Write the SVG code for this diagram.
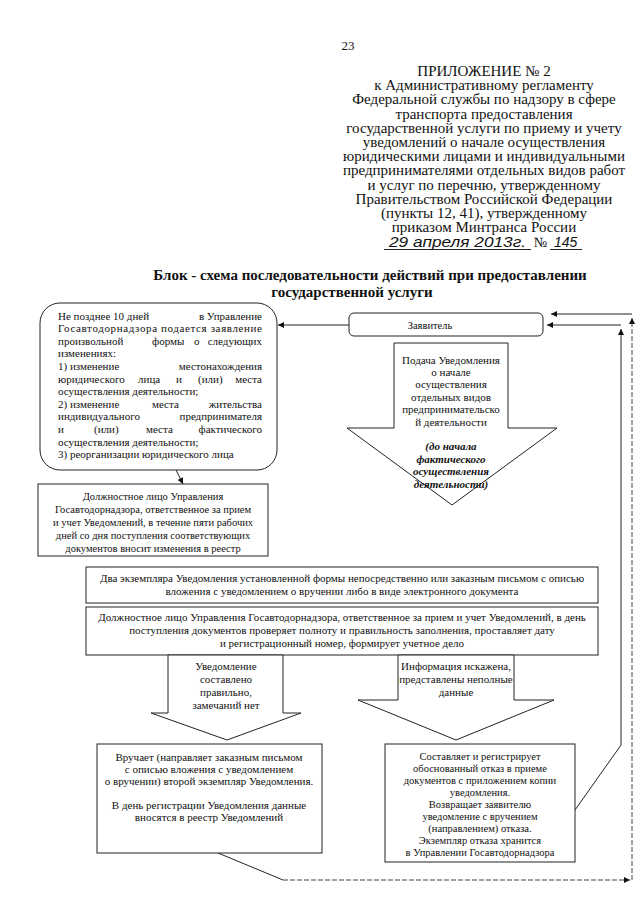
<svg xmlns="http://www.w3.org/2000/svg" width="640" height="905" viewBox="0 0 640 905">
<defs>
<marker id="ah" viewBox="0 0 10 10" refX="10" refY="5" markerWidth="7" markerHeight="6" orient="auto-start-reverse" markerUnits="userSpaceOnUse"><path d="M0,0 L10,5 L0,10 z" fill="#111"/></marker>
<style>
.hd{font-family:"Liberation Serif","Times New Roman",serif;font-size:15px;fill:#111;text-anchor:middle}
.tt{font-family:"Liberation Serif","Times New Roman",serif;font-size:15px;font-weight:bold;fill:#111;text-anchor:middle}
.t{font-family:"Liberation Serif","Times New Roman",serif;font-size:10.5px;fill:#111}
.m{font-size:11px}
.c{text-anchor:middle}
.e{text-anchor:end}
.bi{font-weight:bold;font-style:italic}
.hw{font-family:"Liberation Sans","DejaVu Sans",sans-serif;font-style:italic;font-size:14px;fill:#111}
.box{fill:#fff;stroke:#222;stroke-width:1}
.ln{fill:none;stroke:#222;stroke-width:1}
.dl{fill:none;stroke:#444;stroke-width:1;stroke-dasharray:5 2}
</style>
</defs>
<rect width="640" height="905" fill="#fff"/>

<g id="header">
<text x="348" y="50" class="hd" style="font-size:13px">23</text>
<text x="484" y="76" class="hd">ПРИЛОЖЕНИЕ № 2</text>
<text x="484" y="90.2" class="hd">к Административному регламенту</text>
<text x="484" y="104.4" class="hd">Федеральной службы по надзору в сфере</text>
<text x="484" y="118.6" class="hd">транспорта предоставления</text>
<text x="484" y="132.8" class="hd">государственной услуги по приему и учету</text>
<text x="484" y="147" class="hd">уведомлений о начале осуществления</text>
<text x="484" y="161.2" class="hd">юридическими лицами и индивидуальными</text>
<text x="484" y="175.4" class="hd">предпринимателями отдельных видов работ</text>
<text x="484" y="189.6" class="hd">и услуг по перечню, утвержденному</text>
<text x="484" y="203.8" class="hd">Правительством Российской Федерации</text>
<text x="484" y="218" class="hd">(пункты 12, 41), утвержденному</text>
<text x="484" y="232.2" class="hd">приказом Минтранса России</text>
<text x="389" y="247" class="hw" textLength="137" lengthAdjust="spacingAndGlyphs">29 апреля 2013г.</text>
<line x1="384" y1="249.5" x2="531" y2="249.5" class="ln"/>
<text x="534" y="247" class="hd" style="text-anchor:start;font-size:14px">№</text>
<text x="554" y="247" class="hw">145</text>
<line x1="550" y1="249.5" x2="582" y2="249.5" class="ln"/>
</g>

<g id="title">
<text x="370" y="280" class="tt">Блок - схема последовательности действий при предоставлении</text>
<text x="352" y="297" class="tt">государственной услуги</text>
</g>

<g id="connectors">
<path d="M349,325 L278,325" class="ln" marker-end="url(#ah)"/>
<path d="M176,470 L183,484" class="ln" marker-end="url(#ah)"/>
<path d="M575,810 L621,745 L621,329" class="ln" marker-end="url(#ah)"/>
<path d="M621,325 L547,325" class="ln" marker-end="url(#ah)"/>
<path d="M218,853 L283,880" class="ln"/>
<path d="M283,880 L630,880" class="dl" marker-end="url(#ah)"/>
<path d="M632,880 L632,318" class="dl" marker-end="url(#ah)"/>
<path d="M632,314 L551,314" class="ln" marker-end="url(#ah)"/>
</g>

<g id="applicant">
<rect x="349" y="313" width="194" height="23" rx="5" class="box"/>
<text x="430" y="328.5" class="t c">Заявитель</text>
</g>

<g id="submission-arrow">
<path d="M394,343 L508,343 L508,428 L557,428 L452,505 L347,428 L394,428 Z" class="box"/>
<text x="451" y="363.5" class="t m c">Подача Уведомления</text>
<text x="451" y="375.9" class="t m c">о начале</text>
<text x="451" y="388.3" class="t m c">осуществления</text>
<text x="451" y="400.7" class="t m c">отдельных видов</text>
<text x="451" y="413.1" class="t m c">предпринимательско</text>
<text x="451" y="425.5" class="t m c">й деятельности</text>
<text x="451" y="450.3" class="t m c bi">(до начала</text>
<text x="451" y="462.7" class="t m c bi">фактического</text>
<text x="451" y="475.1" class="t m c bi">осуществления</text>
<text x="451" y="487.5" class="t m c bi">деятельности)</text>
</g>

<g id="changes-note">
<rect x="40" y="303" width="237" height="167" rx="20" class="box"/>
<text x="58" y="319.5" class="t m">Не позднее 10 дней</text>
<text x="262" y="319.5" class="t m e">в Управление</text>
<text x="58" y="332.1" class="t m" textLength="204" lengthAdjust="spacing">Госавтодорнадзора подается заявление</text>
<text x="58" y="344.7" class="t m">произвольной</text>
<text x="152" y="344.7" class="t m">формы</text>
<text x="194" y="344.7" class="t m">о</text>
<text x="262" y="344.7" class="t m e">следующих</text>
<text x="58" y="357.3" class="t m">изменениях:</text>
<text x="58" y="369.9" class="t m">1) изменение</text>
<text x="262" y="369.9" class="t m e">местонахождения</text>
<text x="58" y="382.5" class="t m">юридического</text>
<text x="138" y="382.5" class="t m">лица</text>
<text x="176" y="382.5" class="t m">и</text>
<text x="198" y="382.5" class="t m">(или)</text>
<text x="262" y="382.5" class="t m e">места</text>
<text x="58" y="395.1" class="t m">осуществления деятельности;</text>
<text x="58" y="407.7" class="t m">2) изменение</text>
<text x="152" y="407.7" class="t m">места</text>
<text x="262" y="407.7" class="t m e">жительства</text>
<text x="58" y="420.3" class="t m">индивидуального</text>
<text x="262" y="420.3" class="t m e">предпринимателя</text>
<text x="58" y="432.9" class="t m">и</text>
<text x="94" y="432.9" class="t m">(или)</text>
<text x="146" y="432.9" class="t m">места</text>
<text x="262" y="432.9" class="t m e">фактического</text>
<text x="58" y="445.5" class="t m">осуществления деятельности;</text>
<text x="58" y="458.1" class="t m">3) реорганизации юридического лица</text>
</g>

<g id="registry-change">
<rect x="38" y="484" width="230" height="72" class="box"/>
<text x="153" y="499.5" class="t c">Должностное лицо Управления</text>
<text x="153" y="512.5" class="t c">Госавтодорнадзора, ответственное за прием</text>
<text x="153" y="525.5" class="t c">и учет Уведомлений, в течение пяти рабочих</text>
<text x="153" y="538.5" class="t c">дней со дня поступления соответствующих</text>
<text x="153" y="551.5" class="t c">документов вносит изменения в реестр</text>
</g>

<g id="two-copies">
<rect x="86" y="567" width="512" height="36" class="box"/>
<text x="342" y="581.5" class="t m c">Два экземпляра Уведомления установленной формы непосредственно или заказным письмом с описью</text>
<text x="342" y="594.5" class="t m c">вложения с уведомлением о вручении либо в виде электронного документа</text>
</g>

<g id="check">
<rect x="86" y="607" width="512" height="48" class="box"/>
<text x="342" y="620.5" class="t m c">Должностное лицо Управления Госавтодорнадзора, ответственное за прием и учет Уведомлений, в день</text>
<text x="342" y="633.5" class="t m c">поступления документов проверяет полноту и правильность заполнения, проставляет дату</text>
<text x="342" y="646.5" class="t m c">и регистрационный номер, формирует учетное дело</text>
</g>

<g id="ok-arrow">
<path d="M168,655 L283,655 L283,713 L301,713 L227,740 L151,713 L168,713 Z" class="box"/>
<text x="226" y="670" class="t m c">Уведомление</text>
<text x="226" y="683" class="t m c">составлено</text>
<text x="226" y="696" class="t m c">правильно,</text>
<text x="226" y="709" class="t m c">замечаний нет</text>
</g>

<g id="error-arrow">
<path d="M398,655 L514,655 L514,700 L554,700 L456,740 L358,700 L398,700 Z" class="box"/>
<text x="456" y="670" class="t m c">Информация искажена,</text>
<text x="456" y="683" class="t m c">представлены неполные</text>
<text x="456" y="696" class="t m c">данные</text>
</g>

<g id="deliver">
<rect x="97" y="744" width="225" height="109" class="box"/>
<text x="209" y="761" class="t m c">Вручает (направляет заказным письмом</text>
<text x="209" y="773" class="t m c">с описью вложения с уведомлением</text>
<text x="209" y="785" class="t m c">о вручении) второй экземпляр Уведомления.</text>
<text x="209" y="809" class="t m c">В день регистрации Уведомления данные</text>
<text x="209" y="821" class="t m c">вносятся  в реестр Уведомлений</text>
</g>

<g id="refusal">
<rect x="385" y="744" width="190" height="118" class="box"/>
<text x="480" y="759.5" class="t c">Составляет и регистрирует</text>
<text x="480" y="771.6" class="t c">обоснованный отказ в приеме</text>
<text x="480" y="783.7" class="t c">документов с приложением копии</text>
<text x="480" y="795.8" class="t c">уведомления.</text>
<text x="480" y="807.9" class="t c">Возвращает заявителю</text>
<text x="480" y="820" class="t c">уведомление с вручением</text>
<text x="480" y="832.1" class="t c">(направлением) отказа.</text>
<text x="480" y="844.2" class="t c">Экземпляр отказа хранится</text>
<text x="480" y="856.3" class="t c">в Управлении Госавтодорнадзора</text>
</g>
</svg>
